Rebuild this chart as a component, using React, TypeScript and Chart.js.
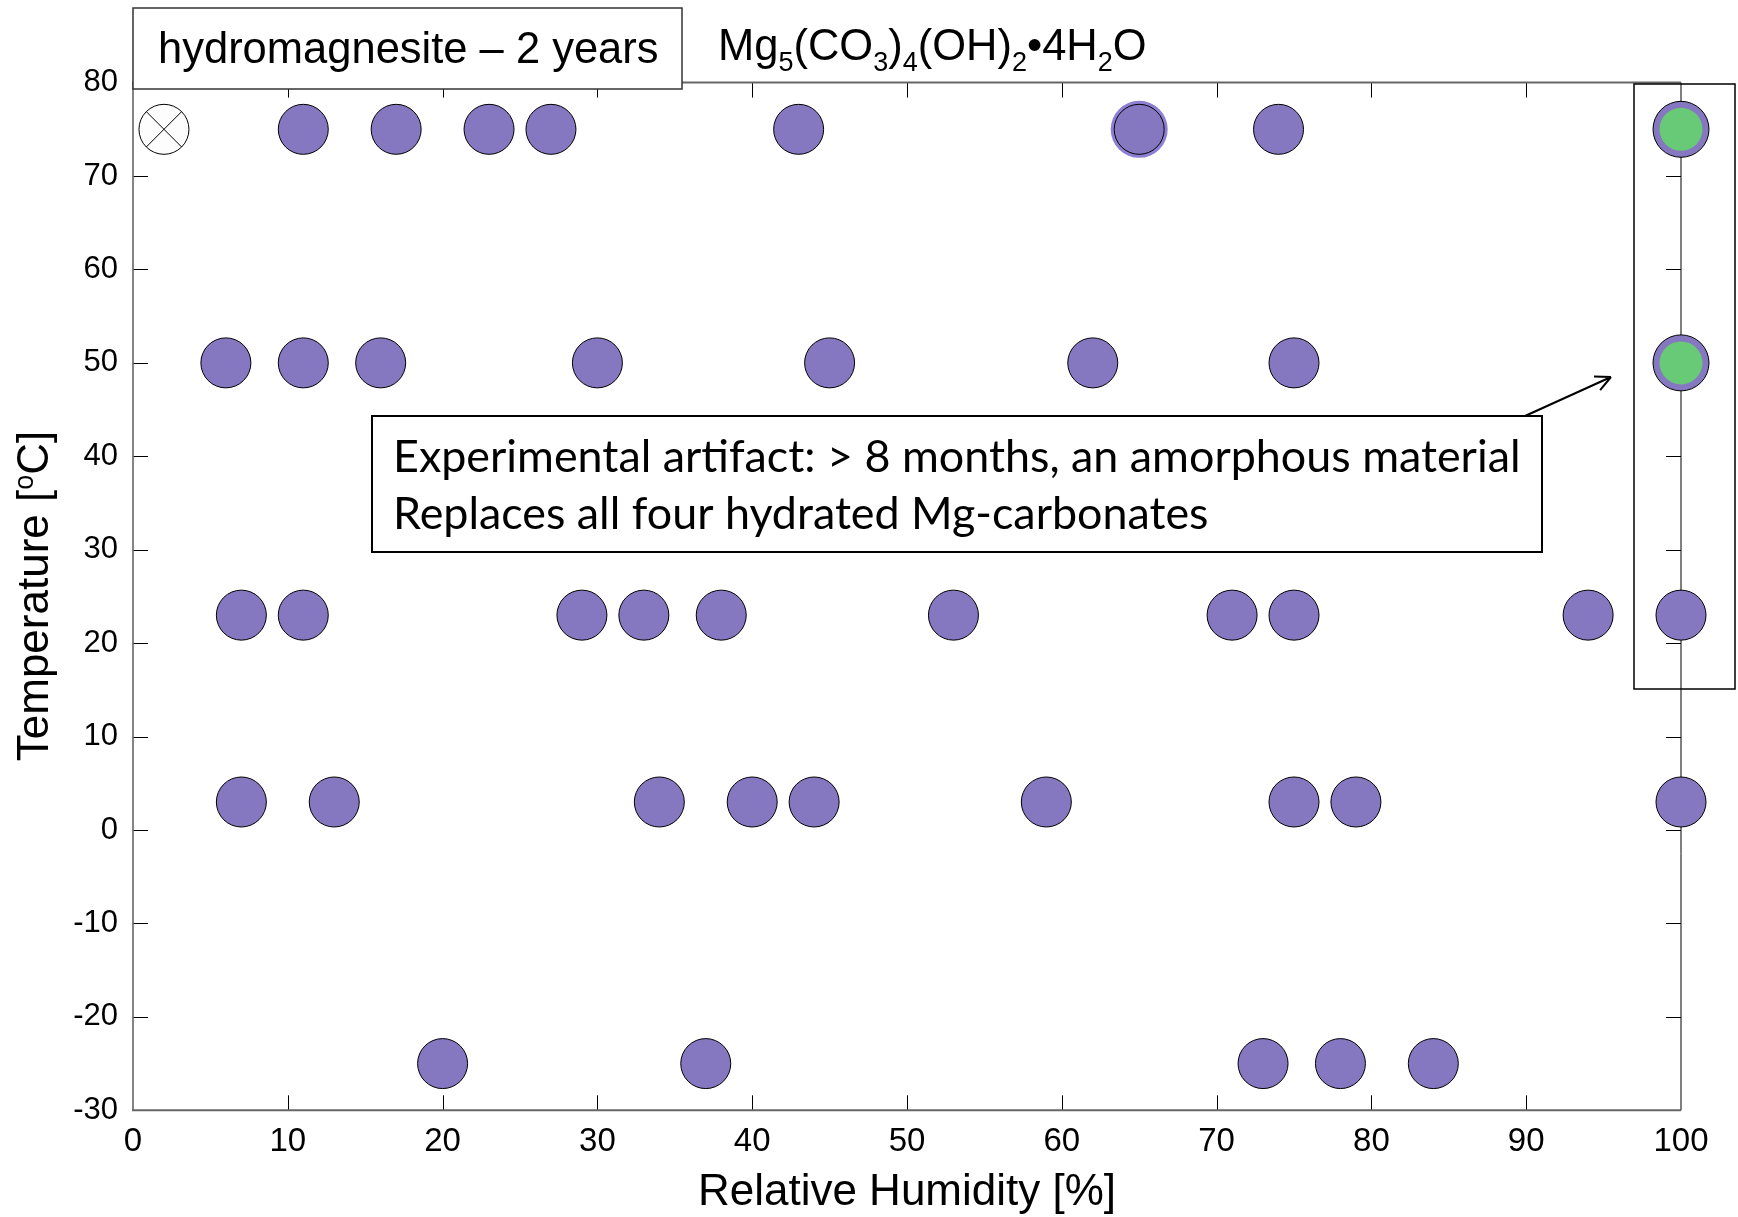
import { useEffect, useRef } from 'react';
import { Chart, registerables } from 'chart.js';

Chart.register(...registerables);

// Relative humidity (%) of the samples at each temperature (°C)
const temperatures = [75, 50, 23, 3, -25];
const rhAt75 = [11, 17, 23, 27, 43, 65, 74];
const rhAt50 = [6, 11, 16, 30, 45, 62, 75];
const rhAt23 = [7, 11, 29, 33, 38, 53, 71, 75, 94, 100];
const rhAt3 = [7, 13, 34, 40, 44, 59, 75, 79, 100];
const rhAtMinus25 = [20, 37, 73, 78, 84];
const rhRows = [rhAt75, rhAt50, rhAt23, rhAt3, rhAtMinus25];

// special markers
const haloRH = [65];
const haloT = [75];
const crossedRH = [2];
const crossedT = [75];
const artifactRH = [100, 100];
const artifactT = [75, 50];

const xTickValues = [10, 20, 30, 40, 50, 60, 70, 80, 90];
const yTickValues = [-20, -10, 0, 10, 20, 30, 40, 50, 60, 70];

const PURPLE = '#8677c1';
const HALO = '#8d7fd2';
const GREEN = '#68c977';
const SANS = "'Liberation Sans', Arial, Helvetica, sans-serif";

const mainPoints = rhRows.flatMap((row, i) => row.map((rh) => ({ x: rh, y: temperatures[i] })));
const haloPoints = haloRH.map((rh, i) => ({ x: rh, y: haloT[i] }));
const crossedPoints = crossedRH.map((rh, i) => ({ x: rh, y: crossedT[i] }));
const artifactPoints = artifactRH.map((rh, i) => ({ x: rh, y: artifactT[i] }));

const framePlugin = {
  id: 'frame',
  beforeDatasetsDraw(chart: any) {
    const { ctx, chartArea } = chart;
    const { left, right, top, bottom } = chartArea;
    const x = chart.scales.x;
    const y = chart.scales.y;
    ctx.save();
    const line = (x1: number, y1: number, x2: number, y2: number) => {
      ctx.beginPath();
      ctx.moveTo(x1, y1);
      ctx.lineTo(x2, y2);
      ctx.stroke();
    };
    ctx.strokeStyle = '#000';
    ctx.lineWidth = 1;
    const T = 15;
    xTickValues.forEach((v) => {
      const px = Math.round(x.getPixelForValue(v)) + 0.5;
      line(px, bottom, px, bottom - T);
      line(px, top, px, top + T);
    });
    yTickValues.forEach((v) => {
      const py = Math.round(y.getPixelForValue(v)) + 0.5;
      line(left, py, left + T, py);
      line(right, py, right - T, py);
    });
    // right spine
    ctx.strokeStyle = '#000';
    ctx.lineWidth = 1;
    line(right, top, right, bottom);
    // gray spines
    ctx.strokeStyle = '#666';
    ctx.lineWidth = 2;
    line(left - 1, top, right, top);
    line(left - 1, bottom, right, bottom);
    ctx.lineWidth = 1.6;
    line(left, top, left, bottom);
    ctx.restore();
  },
  afterDraw(chart: any) {
    const { ctx } = chart;
    ctx.save();
    // title box
    ctx.fillStyle = '#fff';
    ctx.fillRect(133, 8, 549, 81);
    ctx.strokeStyle = '#333';
    ctx.lineWidth = 1.5;
    ctx.strokeRect(133, 8, 549, 81);
    ctx.fillStyle = '#000';
    ctx.textBaseline = 'alphabetic';
    ctx.textAlign = 'left';
    ctx.font = `43.5px ${SANS}`;
    ctx.fillText('hydromagnesite \u2013 2 years', 158, 63);

    // formula
    const parts: [string, boolean][] = [
      ['Mg', false], ['5', true], ['(CO', false], ['3', true], [')', false], ['4', true],
      ['(OH)', false], ['2', true], ['\u20224H', false], ['2', true], ['O', false],
    ];
    let fx = 718;
    parts.forEach(([t, sub]) => {
      ctx.font = sub ? `27px ${SANS}` : `43.5px ${SANS}`;
      ctx.fillText(t, fx, sub ? 71 : 60);
      fx += ctx.measureText(t).width;
    });

    // axis titles
    ctx.font = `44px ${SANS}`;
    ctx.textAlign = 'center';
    ctx.fillText('Relative Humidity [%]', 907, 1205);

    ctx.save();
    ctx.translate(48, 596);
    ctx.rotate(-Math.PI / 2);
    ctx.textAlign = 'left';
    const a = 'Temperature [';
    const o = 'o';
    const c = 'C]';
    ctx.font = `44px ${SANS}`;
    const wa = ctx.measureText(a).width;
    const wc = ctx.measureText(c).width;
    ctx.font = `27px ${SANS}`;
    const wo = ctx.measureText(o).width;
    let tx = -(wa + wo + wc) / 2;
    ctx.font = `44px ${SANS}`;
    ctx.fillText(a, tx, 0);
    tx += wa;
    ctx.font = `27px ${SANS}`;
    ctx.fillText(o, tx, -15);
    tx += wo;
    ctx.font = `44px ${SANS}`;
    ctx.fillText(c, tx, 0);
    ctx.restore();

    // annotation box
    ctx.fillStyle = '#fff';
    ctx.fillRect(372, 416, 1170, 136);
    ctx.strokeStyle = '#000';
    ctx.lineWidth = 2;
    ctx.strokeRect(372, 416, 1170, 136);
    const line1 = 'Experimental artifact: > 8 months, an amorphous material';
    const line2 = 'Replaces all four hydrated Mg-carbonates';
    ctx.font = `40px Lato, 'Open Sans', sans-serif`;
    const w1 = ctx.measureText(line1).width;
    const size = (40 * 1128) / w1;
    ctx.font = `${size}px Lato, 'Open Sans', sans-serif`;
    ctx.fillStyle = '#000';
    ctx.textAlign = 'left';
    ctx.fillText(line1, 393, 472);
    ctx.fillText(line2, 393, 529);

    // arrow
    const ax1 = 1525, ay1 = 416, ax2 = 1611, ay2 = 377;
    ctx.lineWidth = 2;
    ctx.beginPath();
    ctx.moveTo(ax1, ay1);
    ctx.lineTo(ax2, ay2);
    const ang = Math.atan2(ay2 - ay1, ax2 - ax1);
    const hl = 17;
    ctx.moveTo(ax2, ay2);
    ctx.lineTo(ax2 - hl * Math.cos(ang - 0.45), ay2 - hl * Math.sin(ang - 0.45));
    ctx.moveTo(ax2, ay2);
    ctx.lineTo(ax2 - hl * Math.cos(ang + 0.45), ay2 - hl * Math.sin(ang + 0.45));
    ctx.stroke();

    // right rectangle around 100% RH points
    ctx.lineWidth = 1.5;
    ctx.strokeStyle = '#000';
    ctx.strokeRect(1634, 84, 101, 605);
    ctx.restore();
  },
};

export default function App() {
  const ref = useRef<HTMLCanvasElement>(null);
  useEffect(() => {
    const canvas = ref.current!;
    const chart = new Chart(canvas, {
      type: 'scatter',
      data: {
        datasets: [
          {
            label: 'artifact-inner',
            data: artifactPoints,
            pointRadius: 21.5,
            pointBackgroundColor: GREEN,
            pointBorderWidth: 0,
            pointBorderColor: GREEN,
            order: 1,
            clip: false,
          } as any,
          {
            label: 'artifact-outer',
            data: artifactPoints,
            pointRadius: 28,
            pointBackgroundColor: PURPLE,
            pointBorderColor: '#000',
            pointBorderWidth: 1,
            order: 2,
            clip: false,
          },
          {
            label: 'crossed-x',
            data: crossedPoints,
            pointStyle: 'crossRot',
            pointRadius: 25,
            pointBorderColor: '#000',
            pointBorderWidth: 1,
            order: 3,
            clip: false,
          },
          {
            label: 'crossed-circle',
            data: crossedPoints,
            pointRadius: 25,
            pointBackgroundColor: '#fdfdfd',
            pointBorderColor: '#000',
            pointBorderWidth: 1,
            order: 4,
            clip: false,
          },
          {
            label: 'hydromagnesite',
            data: mainPoints,
            pointRadius: 25,
            pointBackgroundColor: PURPLE,
            pointBorderColor: '#000',
            pointBorderWidth: 1,
            order: 5,
            clip: false,
          },
          {
            label: 'halo',
            data: haloPoints,
            pointRadius: 28.5,
            pointBackgroundColor: HALO,
            pointBorderWidth: 0,
            pointBorderColor: HALO,
            order: 6,
            clip: false,
          },
        ],
      },
      options: {
        animation: false,
        responsive: false,
        devicePixelRatio: 1,
        layout: { padding: { top: 82.6, right: 57, left: 0, bottom: 0 } },
        plugins: { legend: { display: false }, tooltip: { enabled: false } },
        events: [],
        scales: {
          x: {
            type: 'linear',
            min: 0,
            max: 100,
            afterFit: (s: any) => {
              s.height = 1217 - 1110.3;
            },
            ticks: {
              stepSize: 10,
              color: '#000',
              padding: 12,
              font: { family: SANS, size: 33 },
              maxRotation: 0,
              autoSkip: false,
            },
            grid: { display: false, drawTicks: false },
            border: { display: false },
          },
          y: {
            type: 'linear',
            min: -30,
            max: 80,
            afterFit: (s: any) => {
              s.width = 133;
            },
            ticks: {
              stepSize: 10,
              color: '#000',
              padding: 15,
              font: { family: SANS, size: 31 },
              autoSkip: false,
            },
            grid: { display: false, drawTicks: false },
            border: { display: false },
          },
        },
      },
      plugins: [framePlugin],
    });
    return () => chart.destroy();
  }, []);
  return (
    <div style={{ position: 'absolute', left: 0, top: 0, width: 1738, height: 1217, background: '#fff' }}>
      <canvas ref={ref} width={1738} height={1217} style={{ display: 'block', width: 1738, height: 1217 }} />
    </div>
  );
}
